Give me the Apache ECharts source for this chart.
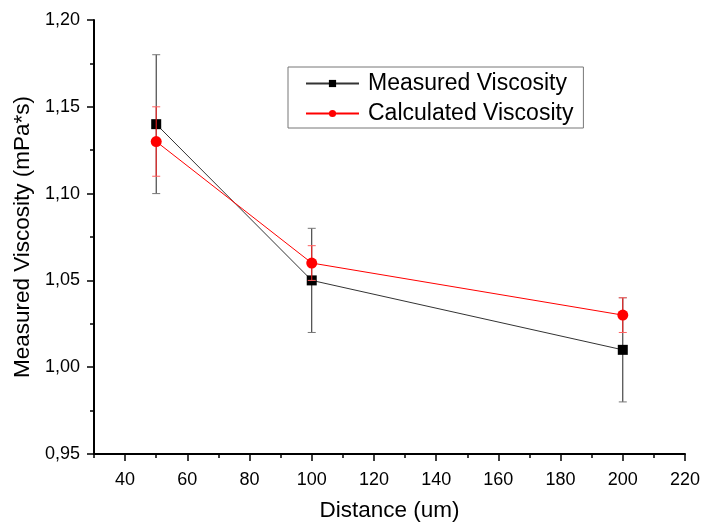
<!DOCTYPE html>
<html>
<head>
<meta charset="utf-8">
<script src="https://cdn.jsdelivr.net/npm/echarts@6/dist/echarts.min.js"></script>
<style>
  html, body { margin: 0; padding: 0; background: #fff; }
  #chart { width: 704px; height: 527px; }
</style>
</head>
<body>
<div id="chart"></div>
<script>
// Distances (um) at which viscosity was measured
const distances = [50, 100, 200];
// Measured viscosity (mPa*s) and its error
const measured = [1.14, 1.05, 1.01];
const measuredErr = [0.04, 0.03, 0.03];
// Calculated viscosity (mPa*s) and its error
const calculated = [1.13, 1.06, 1.03];
const calculatedErr = [0.02, 0.01, 0.01];
// Distance axis: labelled major ticks and unlabelled minor ticks
const xMajorTicks = [40, 60, 80, 100, 120, 140, 160, 180, 200, 220];
const xMinorTicks = [30, 50, 70, 90, 110, 130, 150, 170, 190, 210];

const FONT = 'Liberation Sans, Arial, sans-serif';

function pairs(xs, ys) { return xs.map((x, i) => [x, ys[i]]); }
function errRows(xs, ys, es) { return xs.map((x, i) => [x, ys[i] - es[i], ys[i] + es[i]]); }

// Vertical error bar with caps, drawn through the axes' own scales
function errorBar(lineColor, capColor) {
  return function (params, api) {
    const x = api.value(0);
    const lo = api.coord([x, api.value(1)]);
    const hi = api.coord([x, api.value(2)]);
    const half = 4;
    return {
      type: 'group',
      children: [
        { type: 'line', shape: { x1: lo[0], y1: lo[1], x2: hi[0], y2: hi[1] },
          style: { stroke: lineColor, lineWidth: 1 } },
        { type: 'line', shape: { x1: lo[0] - half, y1: lo[1], x2: lo[0] + half, y2: lo[1] },
          style: { stroke: capColor, lineWidth: 1 } },
        { type: 'line', shape: { x1: hi[0] - half, y1: hi[1], x2: hi[0] + half, y2: hi[1] },
          style: { stroke: capColor, lineWidth: 1 } }
      ]
    };
  };
}

const chart = echarts.init(document.getElementById('chart'), null, { renderer: 'canvas' });

chart.setOption({
  animation: false,
  backgroundColor: '#fff',
  grid: { left: 94, right: 19, top: 20, bottom: 73 },
  legend: {
    left: 288, top: 67,
    orient: 'vertical',
    data: ['Measured Viscosity', 'Calculated Viscosity'],
    itemWidth: 53, itemHeight: 9, itemGap: 7,
    padding: [5, 10, 3, 17],
    borderColor: '#777', borderWidth: 1, borderRadius: 0,
    textStyle: { fontFamily: FONT, fontSize: 23, color: '#000', padding: [0, 0, 0, 4] }
  },
  xAxis: [
    {
      type: 'value',
      min: 30, max: 220, interval: 10,
      name: 'Distance (um)',
      nameLocation: 'middle', nameGap: 45,
      nameTextStyle: { fontFamily: FONT, fontSize: 22.5, color: '#000' },
      axisLine: { show: true, onZero: false, lineStyle: { color: '#000', width: 2 } },
      axisTick: { show: true, inside: false, length: 7, lineStyle: { color: '#000', width: 1.5 }, customValues: xMajorTicks },
      axisLabel: { fontFamily: FONT, fontSize: 18, color: '#000', margin: 17, customValues: xMajorTicks },
      splitLine: { show: false },
      z: 10
    },
    {
      type: 'value',
      min: 30, max: 220, interval: 10,
      position: 'bottom',
      axisLine: { show: false },
      axisTick: { show: true, inside: false, length: 4, lineStyle: { color: '#000', width: 1.5 }, customValues: xMinorTicks },
      axisLabel: { show: false },
      splitLine: { show: false }
    }
  ],
  yAxis: {
    type: 'value',
    min: 0.95, max: 1.20, interval: 0.05,
    name: 'Measured Viscosity (mPa*s)',
    nameLocation: 'middle', nameGap: 58,
    nameTextStyle: { fontFamily: FONT, fontSize: 22.5, color: '#000' },
    axisLine: { show: true, onZero: false, lineStyle: { color: '#000', width: 2 } },
    axisTick: { show: true, inside: false, length: 7, lineStyle: { color: '#000', width: 1.5 } },
    minorTick: { show: true, splitNumber: 2, length: 4, lineStyle: { color: '#000', width: 1.5 } },
    axisLabel: {
      fontFamily: FONT, fontSize: 18, color: '#000', margin: 14,
      formatter: v => v.toFixed(2).replace('.', ',')
    },
    splitLine: { show: false }
  },
  series: [
    {
      name: 'Measured Viscosity',
      type: 'line',
      data: pairs(distances, measured),
      symbol: 'rect', symbolSize: 10,
      color: '#000',
      lineStyle: { color: '#333', width: 1 },
      itemStyle: { color: '#000' },
      z: 3
    },
    {
      name: 'MeasuredErr',
      type: 'custom',
      data: errRows(distances, measured, measuredErr),
      renderItem: errorBar('#222', '#777'),
      encode: { x: 0, y: [1, 2] },
      z: 2
    },
    {
      name: 'CalculatedErr',
      type: 'custom',
      data: errRows(distances, calculated, calculatedErr),
      renderItem: errorBar('#ff2020', '#ff6060'),
      encode: { x: 0, y: [1, 2] },
      z: 4
    },
    {
      name: 'Calculated Viscosity',
      type: 'line',
      data: pairs(distances, calculated),
      symbol: 'circle', symbolSize: 11,
      color: '#ff0000',
      lineStyle: { color: '#ff0000', width: 1 },
      itemStyle: { color: '#ff0000' },
      z: 5
    }
  ]
});
</script>
</body>
</html>
